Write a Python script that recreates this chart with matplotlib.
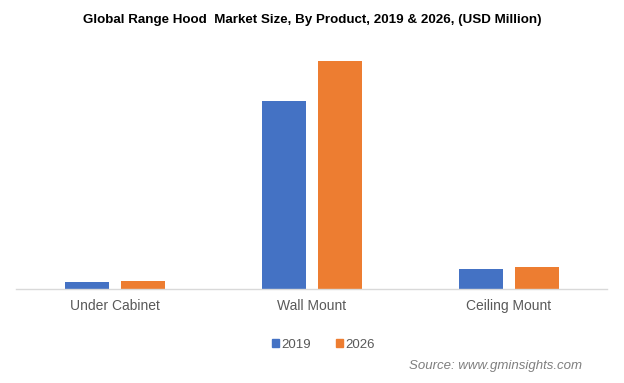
import numpy as np
import matplotlib.pyplot as plt
from matplotlib.patches import Patch

categories = ["Under Cabinet", "Wall Mount", "Ceiling Mount"]
years = ["2019", "2026"]
values_2019 = [7, 188, 20]
values_2026 = [8, 228, 22]

colors = ["#4472C4", "#ED7D31"]

plt.rcParams["font.family"] = ["Liberation Sans", "DejaVu Sans"]

fig = plt.figure(figsize=(6.24, 3.83), dpi=100)
ax = fig.add_axes([0.0264, 0.2454, 0.947, 0.65])

x = np.arange(len(categories))
w = 0.223
off = 0.142
ax.bar(x - off, values_2019, w, color=colors[0])
ax.bar(x + off, values_2026, w, color=colors[1])

ax.set_xlim(-0.5, 2.5)
ax.set_ylim(0, 249)
for s in ["top", "right", "left"]:
    ax.spines[s].set_visible(False)
ax.spines["bottom"].set_color("#D9D9D9")
ax.spines["bottom"].set_linewidth(1.0)
ax.set_yticks([])
ax.set_xticks(x)
ax.set_xticklabels(categories, fontsize=10, color="#595959")
ax.tick_params(axis="x", length=0, pad=7.5)

fig.text(0.5, 0.948, "Global Range Hood  Market Size, By Product, 2019 & 2026, (USD Million)",
         ha="center", va="center", fontsize=9.6, fontweight="bold")

handles = [Patch(color=c) for c in colors]
fig.legend(handles, years, loc="center", bbox_to_anchor=(0.518, 0.099), ncol=2,
           frameon=False, fontsize=9.5, handlelength=0.55, handleheight=0.55,
           handletextpad=0.15, columnspacing=1.9, labelcolor="#595959")

fig.text(0.933, 0.044, "Source: www.gminsights.com", ha="right", va="center",
         fontsize=9.5, style="italic", color="#7F7F7F")

fig.savefig("out.png", dpi=100)
